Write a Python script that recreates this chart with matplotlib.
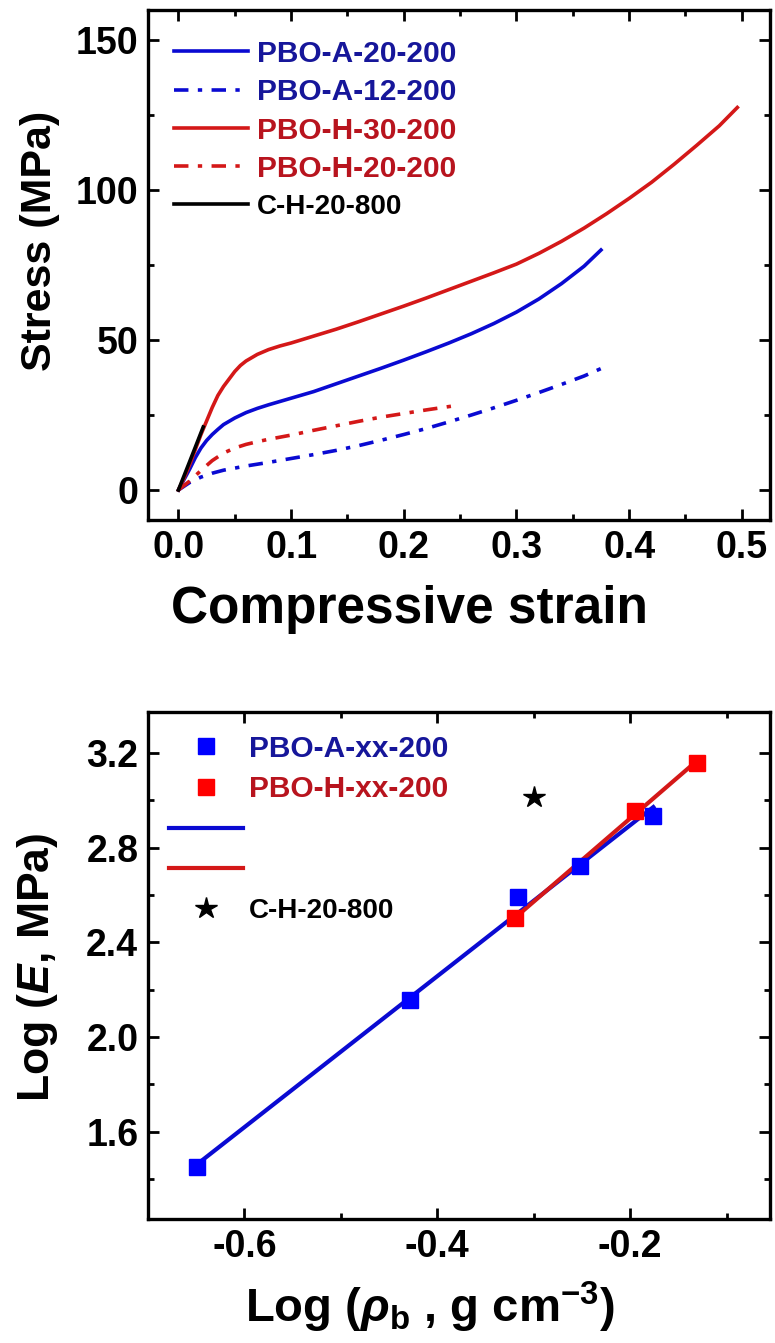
import numpy as np
import matplotlib
matplotlib.use("Agg")
import matplotlib.pyplot as plt
from matplotlib.lines import Line2D
from matplotlib.ticker import MultipleLocator, FormatStrFormatter

plt.rcParams['font.family'] = ['Liberation Sans', 'DejaVu Sans']
plt.rcParams['font.weight'] = 'bold'
plt.rcParams['mathtext.fontset'] = 'custom'
plt.rcParams['mathtext.rm'] = 'Liberation Sans:bold'
plt.rcParams['mathtext.it'] = 'Liberation Sans:italic:bold'
plt.rcParams['mathtext.bf'] = 'Liberation Sans:bold'

# ---------------- data: stress-strain curves ----------------
a20_strain = [0, 0.005, 0.01, 0.015, 0.02, 0.025, 0.03, 0.035, 0.04, 0.05, 0.06, 0.07, 0.08, 0.09, 0.10,
              0.12, 0.14, 0.16, 0.18, 0.20, 0.22, 0.24, 0.26, 0.28, 0.30, 0.32, 0.34, 0.36, 0.375]
a20_stress = [0, 3.5, 7, 10.8, 14, 16.5, 18.5, 20.2, 21.8, 24, 25.8, 27.2, 28.4, 29.5, 30.6,
              32.8, 35.4, 38, 40.6, 43.3, 46.1, 49.0, 52.1, 55.5, 59.3, 63.7, 68.8, 74.6, 80.0]

a12_strain = [0, 0.01, 0.02, 0.03, 0.04, 0.06, 0.08, 0.10, 0.12, 0.14, 0.16, 0.18, 0.20, 0.22,
              0.24, 0.26, 0.28, 0.30, 0.32, 0.34, 0.36, 0.377]
a12_stress = [0, 2.5, 4.3, 5.6, 6.6, 8.0, 9.2, 10.5, 11.8, 13.2, 14.8, 16.6, 18.5, 20.5,
              22.7, 25.0, 27.4, 29.9, 32.5, 35.2, 38.0, 40.8]

h30_strain = [0, 0.005, 0.01, 0.015, 0.02, 0.025, 0.03, 0.035, 0.04, 0.045, 0.05, 0.055, 0.06, 0.07,
              0.08, 0.09, 0.10, 0.12, 0.14, 0.16, 0.18, 0.20, 0.22, 0.24, 0.26, 0.28, 0.30, 0.32,
              0.34, 0.36, 0.38, 0.40, 0.42, 0.44, 0.46, 0.48, 0.496]
h30_stress = [0, 4, 8.5, 13.5, 18.5, 23, 27.5, 31.5, 34.5, 37, 39.5, 41.5, 43, 45.2,
              46.8, 48, 49, 51.3, 53.6, 56.1, 58.7, 61.3, 64, 66.8, 69.6, 72.4, 75.3, 78.9,
              82.9, 87.3, 92.1, 97.2, 102.6, 108.6, 114.9, 121.4, 127.5]

h20_strain = [0, 0.01, 0.02, 0.03, 0.04, 0.05, 0.06, 0.07, 0.08, 0.10, 0.12, 0.14, 0.16, 0.18,
              0.20, 0.22, 0.249]
h20_stress = [0, 3, 6.5, 9.8, 12.3, 14, 15.2, 16.1, 16.9, 18.3, 19.9, 21.4, 22.9, 24.3,
              25.5, 26.7, 28.3]

c800_strain = [0, 0.01, 0.022]
c800_stress = [0, 9.5, 21]

curve_labels = ['PBO-A-20-200', 'PBO-A-12-200', 'PBO-H-30-200', 'PBO-H-20-200', 'C-H-20-800']

# ---------------- data: log modulus vs log density ----------------
logrho_A = [-0.649, -0.428, -0.316, -0.252, -0.176]
logE_A = [1.45, 2.155, 2.593, 2.723, 2.934]
logrho_H = [-0.319, -0.195, -0.131]
logE_H = [2.501, 2.953, 3.158]
logrho_C = [-0.300]
logE_C = [3.016]
scatter_labels = ['PBO-A-xx-200', 'PBO-H-xx-200', 'C-H-20-800']

BLUE = '#0a0ad2'
RED = '#d41818'
BLUE_T = '#16169a'
RED_T = '#b8141e'

W, H = 775, 1343
fig = plt.figure(figsize=(W / 100, H / 100), dpi=100)

ax1 = fig.add_axes([148 / W, 1 - 520 / H, 622 / W, 510 / H])
ax2 = fig.add_axes([148 / W, 1 - 1219 / H, 622 / W, 507 / H])

TICK_FS = 27
LW = 2.6
dashdot = (0, (4, 2.6, 1.2, 2.6))


def style(ax):
    for s in ax.spines.values():
        s.set_linewidth(2.4)
    ax.tick_params(which='both', direction='in', top=True, right=True, width=2.0)
    ax.tick_params(which='major', length=8, labelsize=TICK_FS, pad=7)
    ax.tick_params(which='minor', length=4.5)
    for t in ax.get_xticklabels() + ax.get_yticklabels():
        t.set_fontweight('bold')


# ---- top panel ----
ax1.plot(a20_strain, a20_stress, color=BLUE, lw=LW, label=curve_labels[0])
ax1.plot(a12_strain, a12_stress, color=BLUE, lw=LW, ls=dashdot, label=curve_labels[1])
ax1.plot(h30_strain, h30_stress, color=RED, lw=LW, label=curve_labels[2])
ax1.plot(h20_strain, h20_stress, color=RED, lw=LW, ls=dashdot, label=curve_labels[3])
ax1.plot(c800_strain, c800_stress, color='black', lw=LW, label=curve_labels[4])
ax1.set_xlim(-0.027, 0.525)
ax1.set_ylim(-10, 160)
ax1.xaxis.set_major_locator(MultipleLocator(0.1))
ax1.xaxis.set_minor_locator(MultipleLocator(0.05))
ax1.yaxis.set_major_locator(MultipleLocator(50))
ax1.yaxis.set_minor_locator(MultipleLocator(25))
ax1.xaxis.set_major_formatter(FormatStrFormatter('%.1f'))
style(ax1)
ax1.set_xlabel('Compressive strain', fontsize=37, fontweight='bold')
ax1.set_ylabel('Stress (MPa)', fontsize=31, fontweight='bold')
ax1.xaxis.set_label_coords(0.42, -0.127)
ax1.yaxis.set_label_coords(-0.1415, 0.547)
leg1 = ax1.legend(loc='upper left', frameon=False, fontsize=21.5, handlelength=2.48,
                  handletextpad=0.3, labelspacing=0.345, borderaxespad=0.3,
                  bbox_to_anchor=(0.008, 1 - 9 / 510),
                  labelcolor=[BLUE_T, BLUE_T, RED_T, RED_T, 'black'])
leg1.get_texts()[4].set_fontsize(20)

# ---- bottom panel ----
bA = np.polyfit(logrho_A, logE_A, 1)
bH = np.polyfit(logrho_H, logE_H, 1)
xa = np.array([min(logrho_A), max(logrho_A)])
xh = np.array([min(logrho_H), max(logrho_H)])
ax2.plot(xa, np.polyval(bA, xa), color=BLUE, lw=3.0, zorder=2)
ax2.plot(xh, np.polyval(bH, xh), color=RED, lw=3.0, zorder=2)
ax2.plot(logrho_A, logE_A, 's', color='#0000ff', ms=12, ls='none', zorder=3)
ax2.plot(logrho_H, logE_H, 's', color='#ff0000', ms=12, ls='none', zorder=4)
ax2.plot(logrho_C, logE_C, '*', color='black', ms=16, ls='none', zorder=5)
ax2.set_xlim(-0.70, -0.055)
ax2.set_ylim(1.231, 3.373)
ax2.xaxis.set_major_locator(MultipleLocator(0.2))
ax2.xaxis.set_minor_locator(MultipleLocator(0.1))
ax2.yaxis.set_major_locator(MultipleLocator(0.4))
ax2.yaxis.set_minor_locator(MultipleLocator(0.2))
ax2.xaxis.set_major_formatter(FormatStrFormatter('%.1f'))
ax2.yaxis.set_major_formatter(FormatStrFormatter('%.1f'))
style(ax2)
ax2.set_xlabel(r'Log ($\rho_\mathregular{b}$ , g cm$^\mathregular{-3}$)', fontsize=34,
               fontweight='bold')
ax2.set_ylabel(r'Log ($E$, MPa)', fontsize=32, fontweight='bold')
ax2.xaxis.set_label_coords(0.453, -0.12)
ax2.yaxis.set_label_coords(-0.1415, 0.497)

handles = [Line2D([], [], marker='s', color='#0000ff', ms=12, ls='none'),
           Line2D([], [], marker='s', color='#ff0000', ms=12, ls='none'),
           Line2D([], [], color=BLUE, lw=3.0),
           Line2D([], [], color=RED, lw=3.0),
           Line2D([], [], marker='*', color='black', ms=16, ls='none')]
labels = [scatter_labels[0], scatter_labels[1], ' ', ' ', scatter_labels[2]]
leg2 = ax2.legend(handles, labels, loc='upper left', frameon=False, fontsize=21.5,
                  handlelength=2.48, handletextpad=0.2, labelspacing=0.42,
                  borderaxespad=0.3, bbox_to_anchor=(0.0, 1 - 2 / 507),
                  labelcolor=[BLUE_T, RED_T, 'black', 'black', 'black'])
leg2.get_texts()[4].set_fontsize(20)

fig.savefig('out.png', dpi=100)
